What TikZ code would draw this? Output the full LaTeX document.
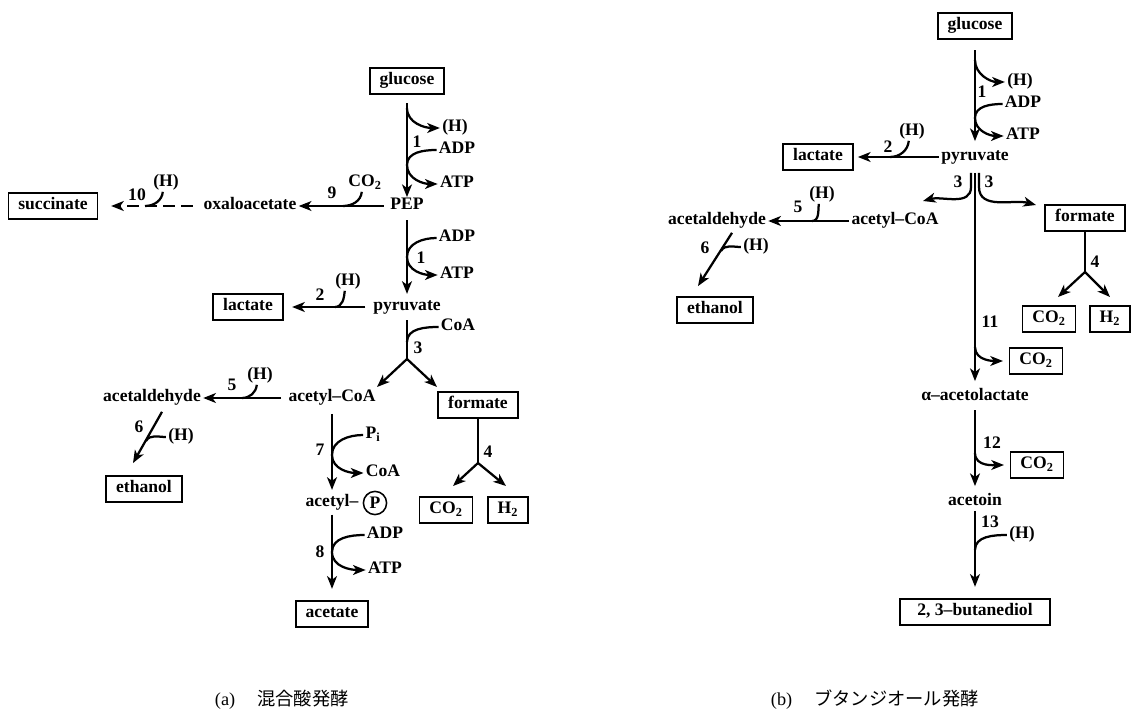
\documentclass[tikz,border=0pt]{standalone}
\usepackage{fontspec}
\setmainfont{Liberation Serif}
\newfontfamily\jpfont{Noto Sans CJK JP}
\usetikzlibrary{arrows.meta,positioning,calc}

\begin{document}
\begin{tikzpicture}[x=0.025cm, y=-0.025cm,
    font=\bfseries\fontsize{12.5}{14}\selectfont,
    met/.style={inner sep=1.5pt, text height=1.6ex, text depth=0.4ex},
    box/.style={draw, line width=1.3pt, inner xsep=7pt, inner ysep=1.5pt, minimum height=0.65cm, text height=1.6ex, text depth=0.4ex},
    num/.style={inner sep=1pt},
    arr/.style={-{Stealth[length=9pt,width=7pt,inset=2.5pt]}, line width=1.6pt},
    ln/.style={line width=1.6pt}
  ]
  \useasboundingbox (0,0) rectangle (1132,728);

  % (a) mixed acid fermentation
  \node[box] (glcA) at (407,81) {glucose};
  \node[met] (pepA) at (407,206) {PEP};
  \node[met] (oaaA) at (250,206) {oxaloacetate};
  \node[box] (sucA) at (53,206) {succinate};
  \node[met] (pyrA) at (407,307) {pyruvate};
  \node[box] (lacA) at (248,307) {lactate};
  \node[met] (accoaA) at (332,398) {acetyl--CoA};
  \node[met] (aldA) at (152,398) {acetaldehyde};
  \node[box] (etohA) at (144,489) {ethanol};
  \node[box] (forA) at (478,405) {formate};
  \node[box] (co2A) at (446,510) {CO\textsubscript{2}};
  \node[box] (h2A) at (508,510) {H\textsubscript{2}};
  \node[met] (acpA) at (332,503) {acetyl--};
  \node[draw, circle, line width=1.1pt, inner sep=0pt, minimum size=0.58cm] (phA) at (375,503) {P};
  \node[box] (aceA) at (332,614) {acetate};

  \node[met] (h1A) at (455,128) {(H)};
  \node[num] (n1A) at (417,142) {1};
  \node[met] (adp1A) at (457,150) {ADP};
  \node[met] (atp1A) at (457,184) {ATP};
  \node[met] (co29A) at (365,183) {CO\textsubscript{2}};
  \node[num] (n9A) at (332,193) {9};
  \node[met] (h10A) at (166,183) {(H)};
  \node[num] (n10A) at (137,195) {10};
  \node[met] (adp2A) at (457,238) {ADP};
  \node[met] (atp2A) at (457,275) {ATP};
  \node[num] (n1bA) at (421,258) {1};
  \node[met] (h2lA) at (348,282) {(H)};
  \node[num] (n2A) at (320,295) {2};
  \node[met] (coa3A) at (458,327) {CoA};
  \node[num] (n3A) at (418,348) {3};
  \node[met] (h5A) at (260,376) {(H)};
  \node[num] (n5A) at (232,385) {5};
  \node[met] (h6A) at (181,437) {(H)};
  \node[num] (n6A) at (139,427) {6};
  \node[met] (pi7A) at (373,435) {P\textsubscript{i}};
  \node[met] (coa7A) at (383,473) {CoA};
  \node[num] (n7A) at (320,450) {7};
  \node[num] (n4A) at (488,452) {4};
  \node[met] (adp8A) at (385,535) {ADP};
  \node[met] (atp8A) at (385,570) {ATP};
  \node[num] (n8A) at (320,552) {8};

  \coordinate (c1A) at (407,108);
  \coordinate (c1bA) at (407,165);
  \coordinate (c1cA) at (407,257);
  \coordinate (c9A) at (343,206);
  \coordinate (c10A) at (145,206);
  \coordinate (c2A) at (335,307);
  \coordinate (c3A) at (407,342);
  \coordinate (s3A) at (407,359);
  \coordinate (t3aA) at (377,387);
  \coordinate (t3bA) at (437,387);
  \coordinate (c5A) at (242,398);
  \coordinate (c6A) at (146,441);
  \coordinate (c7A) at (332,455);
  \coordinate (c8A) at (332,552);
  \coordinate (s4A) at (478,463);
  \coordinate (t4aA) at (453,486);
  \coordinate (t4bA) at (506,486);

  \draw[arr, shorten <=6pt] (glcA.south) -- (pepA.north);
  \draw[arr] (c1A) to[out=-90,in=180] (h1A.west);
  \draw[arr] (adp1A.west) to[out=180,in=90] (c1bA) to[out=-90,in=180] (atp1A.west);
  \draw[arr, shorten <=3pt] (pepA.west) -- (oaaA.east);
  \draw[ln] (co29A.250) to[out=-95,in=0] (c9A);
  \draw[arr, dash pattern=on 0.3cm off 0.15cm, shorten <=6pt, shorten >=9pt] (oaaA.west) -- (sucA.east);
  \draw[ln] (h10A.250) to[out=-95,in=0] (c10A);
  \draw[arr, shorten <=4pt, shorten >=3pt] (pepA.south) -- (pyrA.north);
  \draw[arr] (adp2A.west) to[out=180,in=90] (c1cA) to[out=-90,in=180] (atp2A.west);
  \draw[arr, shorten <=4pt, shorten >=6pt] (pyrA.west) -- (lacA.east);
  \draw[ln] (h2lA.250) to[out=-95,in=0] (c2A);
  \draw[ln, shorten <=3pt] (pyrA.south) -- (s3A);
  \draw[ln] (coa3A.west) to[out=180,in=90] (c3A);
  \draw[arr] (s3A) -- (t3aA);
  \draw[arr] (s3A) -- (t3bA);
  \draw[arr, shorten <=3.5pt] (accoaA.west) -- (aldA.east);
  \draw[ln] (h5A.250) to[out=-95,in=0] (c5A);
  \draw[arr] ($(aldA.south)+(10,5)$) -- ($(etohA.north)+(-11,-12)$);
  \draw[ln] (h6A.west) to[out=180,in=60] (c6A);
  \draw[arr, shorten <=5pt, shorten >=3pt] (accoaA.south) -- (acpA.north);
  \draw[arr] (pi7A.west) to[out=180,in=90] (c7A) to[out=-90,in=180] (coa7A.west);
  \draw[arr, shorten <=2pt, shorten >=8pt] (acpA.south) -- (aceA.north);
  \draw[arr] (adp8A.west) to[out=180,in=90] (c8A) to[out=-90,in=180] (atp8A.west);
  \draw[ln] (forA.south) -- (s4A);
  \draw[arr] (s4A) -- (t4aA);
  \draw[arr] (s4A) -- (t4bA);

  % (b) butanediol fermentation
  \node[box] (glcB) at (975,26) {glucose};
  \node[met] (pyrB) at (975,157) {pyruvate};
  \node[box] (lacB) at (818,157) {lactate};
  \node[met] (accoaB) at (895,221) {acetyl--CoA};
  \node[met] (aldB) at (717,221) {acetaldehyde};
  \node[box] (etohB) at (715,310) {ethanol};
  \node[box] (forB) at (1085,218) {formate};
  \node[box] (co2fB) at (1049,319) {CO\textsubscript{2}};
  \node[box] (h2B) at (1110,319) {H\textsubscript{2}};
  \node[met] (aalB) at (975,397) {α--acetolactate};
  \node[box] (co211B) at (1036,361) {CO\textsubscript{2}};
  \node[box] (co212B) at (1037,465) {CO\textsubscript{2}};
  \node[met] (actB) at (975,502) {acetoin};
  \node[box, minimum width=3.75cm] (bdoB) at (975,612) {2, 3--butanediol};

  \node[met] (h1B) at (1020,82) {(H)};
  \node[num] (n1B) at (982,92) {1};
  \node[met] (adp1B) at (1023,104) {ADP};
  \node[met] (atp1B) at (1023,136) {ATP};
  \node[met] (h2lB) at (912,132) {(H)};
  \node[num] (n2B) at (888,147) {2};
  \node[num] (n3aB) at (958,182) {3};
  \node[num] (n3bB) at (989,182) {3};
  \node[met] (h5B) at (822,195) {(H)};
  \node[num] (n5B) at (798,207) {5};
  \node[met] (h6B) at (756,247) {(H)};
  \node[num] (n6B) at (705,248) {6};
  \node[num] (n4B) at (1095,262) {4};
  \node[num] (n11B) at (990,322) {11};
  \node[num] (n12B) at (992,443) {12};
  \node[num] (n13B) at (990,522) {13};
  \node[met] (h13B) at (1022,535) {(H)};

  \coordinate (c1B) at (975,60);
  \coordinate (c1bB) at (975,118);
  \coordinate (c2B) at (890,157);
  \coordinate (p3lB) at (971,173);
  \coordinate (p3mB) at (975,173);
  \coordinate (p3rB) at (979,173);
  \coordinate (t3lB) at (923,201);
  \coordinate (t3rB) at (1036,205);
  \coordinate (c5B) at (812,221);
  \coordinate (c6B) at (721,251);
  \coordinate (c11B) at (975,347);
  \coordinate (c12B) at (975,453);
  \coordinate (c13B) at (975,550);
  \coordinate (s4B) at (1085,272);
  \coordinate (t4aB) at (1058,297);
  \coordinate (t4bB) at (1110,297);

  \draw[arr, shorten <=7.5pt, shorten >=5pt] (glcB.south) -- (pyrB.north);
  \draw[arr] (c1B) to[out=-90,in=180] (h1B.west);
  \draw[arr] (adp1B.west) to[out=180,in=90] (c1bB) to[out=-90,in=180] (atp1B.west);
  \draw[arr, shorten >=3pt] (pyrB.west) -- (lacB.east);
  \draw[ln] (h2lB.250) to[out=-95,in=0] (c2B);
  \draw[arr] (p3lB) -- ++(0,14) to[out=-90,in=15] (t3lB);
  \draw[arr] (p3rB) -- ++(0,14) to[out=-90,in=165] (t3rB);
  \draw[arr, shorten >=5pt] (p3mB) -- (aalB.north);
  \draw[arr] (accoaB.west) -- (aldB.east);
  \draw[ln] (h5B.250) to[out=-95,in=0] (c5B);
  \draw[arr] ($(aldB.south)+(15,3)$) -- ($(etohB.north)+(-17,-10)$);
  \draw[ln] (h6B.west) to[out=180,in=60] (c6B);
  \draw[ln] (forB.south) -- (s4B);
  \draw[arr] (s4B) -- (t4aB);
  \draw[arr] (s4B) -- (t4bB);
  \draw[arr, shorten >=4pt] (c11B) to[out=-90,in=180] (co211B.west);
  \draw[arr, shorten <=3pt, shorten >=5pt] (aalB.south) -- (actB.north);
  \draw[arr, shorten >=4pt] (c12B) to[out=-90,in=180] (co212B.west);
  \draw[arr, shorten >=8pt] (actB.south) -- (bdoB.north);
  \draw[ln] (h13B.west) to[out=180,in=90] (c13B);

  % captions
  \node[anchor=west, font=\fontsize{13}{15}\selectfont] (capA) at (210,700) {(a)\hspace{1.2em}{\jpfont 混合酸発酵}};
  \node[anchor=west, font=\fontsize{13}{15}\selectfont] (capB) at (766,700) {(b)\hspace{1.2em}{\jpfont ブタンジオール発酵}};
\end{tikzpicture}
\end{document}
